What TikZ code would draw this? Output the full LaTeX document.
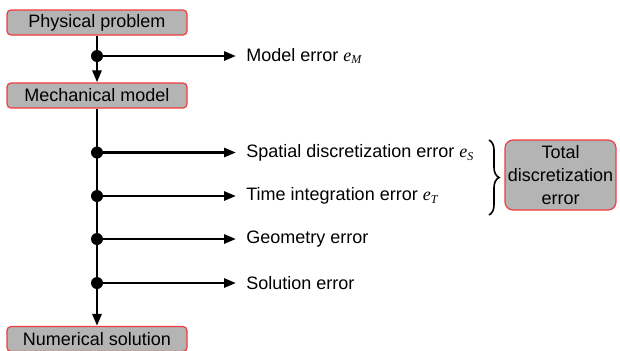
\documentclass[tikz,border=0pt]{standalone}
\usepackage{xcolor}
\usepackage{fontspec}
\setmainfont{Liberation Sans}
\newfontfamily\serif{Liberation Serif}
\usepackage{tikz}
\usetikzlibrary{arrows.meta,decorations.pathreplacing}

\definecolor{boxred}{RGB}{240,60,60}
\definecolor{boxgray}{RGB}{180,180,180}
\newcommand{\errsym}[1]{{\serif\itshape e\raisebox{-0.35ex}{\fontsize{6}{6}\selectfont #1}}}

\begin{document}
\begin{tikzpicture}[x=0.5pt,y=-0.5pt,font=\fontsize{9}{11.5}\selectfont,
    box/.style={draw=boxred,fill=boxgray,line width=0.6pt,rounded corners=2pt,
        minimum width=90pt,minimum height=12.5pt,inner sep=0pt},
    lbl/.style={anchor=west,inner xsep=5pt,inner ysep=1pt},
    dot/.style={circle,fill=black,inner sep=0pt,minimum size=6pt},
    arr/.style={line width=1.4pt,-{Triangle[length=6pt,width=4.5pt]}}]
        \useasboundingbox (0,0) rectangle (620,350);

        \node[box] (phys) at (97,22.5) {Physical problem};
        \node[box] (mech) at (97,95.5) {Mechanical model};
        \node[box] (num) at (97,339) {Numerical solution};
        \node[box,align=center,minimum width=55.5pt,minimum height=35pt,
            rounded corners=4pt] (total) at (560.5,175) {Total\\discretization\\error};

        \node[dot] (dm) at (97,56) {};
        \node[dot] (ds) at (97,152.5) {};
        \node[dot] (dt) at (97,196) {};
        \node[dot] (dg) at (97,239) {};
        \node[dot] (dsol) at (97,283) {};

        \node[lbl] (em) at (236,56) {Model error \errsym{M}};
        \node[lbl] (es) at (236,152.5) {Spatial discretization error \errsym{S}};
        \node[lbl] (et) at (236,196) {Time integration error \errsym{T}};
        \node[lbl] (eg) at (236,239) {Geometry error};
        \node[lbl] (esol) at (236,283) {Solution error};

        \draw[arr] (phys) -- (mech);
        \draw[arr] (mech) -- (num);

        \draw[arr] (dm) -- (em);
        \draw[arr] (ds) -- (es);
        \draw[arr] (dt) -- (et);
        \draw[arr] (dg) -- (eg);
        \draw[arr] (dsol) -- (esol);

        \draw[line width=0.8pt,decorate,decoration={brace,amplitude=5pt}]
            (489,140) -- (489,215);
    \end{tikzpicture}
\end{document}
